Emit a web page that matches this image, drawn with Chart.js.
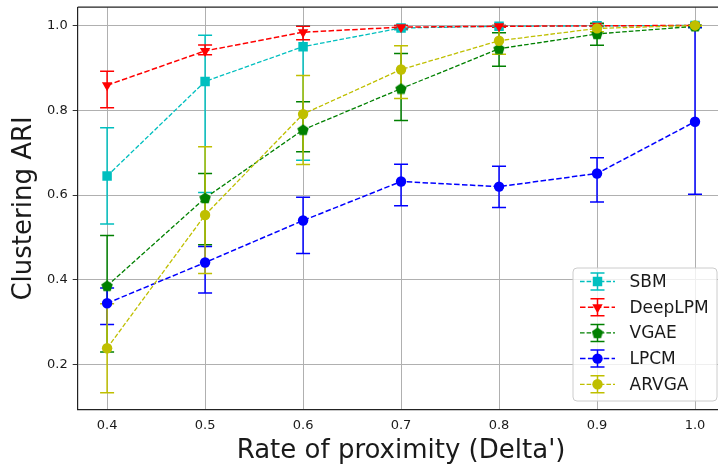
<!DOCTYPE html>
<html>
<head>
  <title>Clustering ARI vs rate of proximity</title>
  <script src="https://cdn.jsdelivr.net/npm/chart.js"></script>
  <style>
    body { margin: 0; background: #fff; overflow: hidden; }
    .wrap { width: 718px; height: 470px; overflow: hidden; }
    canvas { display: block; }
  </style>
</head>
<body>
  <div class="wrap"><canvas id="ari" width="732" height="470"></canvas></div>
  <script>
    // x values and tick labels
    const deltas = [0.4, 0.5, 0.6, 0.7, 0.8, 0.9, 1.0];
    const xTicks = [0.4, 0.5, 0.6, 0.7, 0.8, 0.9, 1.0];
    const yTicks = [0.2, 0.4, 0.6, 0.8, 1.0];

    // mean ARI and error bar ends
    const sbmMean = [0.645, 0.868, 0.950, 0.994, 0.998, 0.999, 1.000];
    const sbmLow  = [0.532, 0.606, 0.682, 0.990, 0.996, 0.997, 0.995];
    const sbmHigh = [0.759, 0.977, 0.999, 1.000, 1.000, 1.000, 1.000];

    const deepMean = [0.859, 0.940, 0.984, 0.996, 0.998, 0.999, 1.000];
    const deepLow  = [0.806, 0.931, 0.966, 0.992, 0.996, 0.998, 0.999];
    const deepHigh = [0.892, 0.954, 0.998, 1.000, 1.000, 1.000, 1.000];

    const vgaeMean = [0.386, 0.593, 0.754, 0.851, 0.945, 0.980, 0.998];
    const vgaeLow  = [0.230, 0.483, 0.702, 0.776, 0.904, 0.953, 0.995];
    const vgaeHigh = [0.505, 0.651, 0.820, 0.934, 0.983, 1.005, 1.000];

    const lpcmMean = [0.345, 0.441, 0.540, 0.632, 0.620, 0.651, 0.773];
    const lpcmLow  = [0.295, 0.369, 0.462, 0.575, 0.571, 0.584, 0.602];
    const lpcmHigh = [0.381, 0.479, 0.595, 0.673, 0.668, 0.688, 0.995];

    const arvgaMean = [0.239, 0.553, 0.791, 0.896, 0.964, 0.993, 1.000];
    const arvgaLow  = [0.134, 0.415, 0.672, 0.828, 0.932, 0.985, 0.998];
    const arvgaHigh = [0.344, 0.714, 0.882, 0.952, 0.998, 1.000, 1.000];

    // pentagon marker for VGAE
    const pentagon = document.createElement('canvas');
    pentagon.width = 12; pentagon.height = 12;
    (() => {
      const c = pentagon.getContext('2d');
      c.fillStyle = '#008000';
      c.beginPath();
      for (let k = 0; k < 5; k++) {
        const a = -Math.PI / 2 + k * 2 * Math.PI / 5;
        c.lineTo(6 + 6 * Math.cos(a), 6.4 + 6 * Math.sin(a));
      }
      c.closePath();
      c.fill();
    })();

    const series = [
      { label: 'SBM', color: '#00bfbf', mean: sbmMean, low: sbmLow, high: sbmHigh, style: 'rect', radius: 6.7, rot: 0, width: 1.3, dash: [4.6, 2] },
      { label: 'DeepLPM', color: '#ff0000', mean: deepMean, low: deepLow, high: deepHigh, style: 'triangle', radius: 6, rot: 180, width: 1.5, dash: [5.5, 2.4] },
      { label: 'VGAE', color: '#008000', mean: vgaeMean, low: vgaeLow, high: vgaeHigh, style: pentagon, radius: 6, rot: 0, width: 1.3, dash: [4.6, 2] },
      { label: 'LPCM', color: '#0000ff', mean: lpcmMean, low: lpcmLow, high: lpcmHigh, style: 'circle', radius: 5.2, rot: 0, width: 1.5, dash: [5.5, 2.4] },
      { label: 'ARVGA', color: '#bfbf00', mean: arvgaMean, low: arvgaLow, high: arvgaHigh, style: 'circle', radius: 5.2, rot: 0, width: 1.3, dash: [4.6, 2] }
    ];

    function drawMarker(ctx, s, x, y) {
      ctx.save();
      ctx.fillStyle = s.color;
      ctx.setLineDash([]);
      if (s.style instanceof HTMLCanvasElement) {
        ctx.drawImage(s.style, x - s.style.width / 2, y - s.style.height / 2);
      } else if (s.style === 'rect') {
        const h = s.radius * Math.SQRT1_2;
        ctx.fillRect(x - h, y - h, 2 * h, 2 * h);
      } else if (s.style === 'triangle') {
        ctx.beginPath();
        for (let k = 0; k < 3; k++) {
          const a = Math.PI / 2 + k * 2 * Math.PI / 3;
          ctx.lineTo(x + s.radius * Math.cos(a), y + s.radius * Math.sin(a));
        }
        ctx.closePath();
        ctx.fill();
      } else {
        ctx.beginPath();
        ctx.arc(x, y, s.radius, 0, 2 * Math.PI);
        ctx.fill();
      }
      ctx.restore();
    }

    const errorBars = {
      id: 'errorBars',
      beforeDatasetsDraw(chart) {
        const { ctx, chartArea: a, scales: { x, y } } = chart;
        ctx.save();
        ctx.beginPath();
        ctx.rect(a.left, a.top - 2, a.right - a.left, a.bottom - a.top + 2);
        ctx.clip();
        ctx.setLineDash([]);
        ctx.lineWidth = 1.5;
        series.forEach(s => {
          ctx.strokeStyle = s.color;
          deltas.forEach((d, i) => {
            const px = x.getPixelForValue(d);
            const lo = y.getPixelForValue(s.low[i]);
            const hi = y.getPixelForValue(s.high[i]);
            ctx.beginPath();
            ctx.moveTo(px, lo); ctx.lineTo(px, hi);
            ctx.moveTo(px - 7, lo); ctx.lineTo(px + 7, lo);
            ctx.moveTo(px - 7, hi); ctx.lineTo(px + 7, hi);
            ctx.stroke();
          });
        });
        ctx.restore();
      }
    };

    const frameAndLegend = {
      id: 'frameAndLegend',
      afterDraw(chart) {
        const { ctx, chartArea: a } = chart;
        ctx.save();
        // top spine (left/bottom come from the axes, right one is off the page)
        ctx.strokeStyle = '#222';
        ctx.lineWidth = 1.2;
        ctx.beginPath();
        ctx.moveTo(a.left, a.top); ctx.lineTo(a.right, a.top);
        ctx.stroke();

        // legend box
        const bx = 573, by = 268, bw = 144, bh = 133, r = 4;
        ctx.fillStyle = 'rgba(255,255,255,0.8)';
        ctx.strokeStyle = '#cccccc';
        ctx.lineWidth = 1;
        ctx.beginPath();
        ctx.moveTo(bx + r, by);
        ctx.arcTo(bx + bw, by, bx + bw, by + bh, r);
        ctx.arcTo(bx + bw, by + bh, bx, by + bh, r);
        ctx.arcTo(bx, by + bh, bx, by, r);
        ctx.arcTo(bx, by, bx + bw, by, r);
        ctx.closePath();
        ctx.fill();
        ctx.stroke();

        ctx.font = '17px "DejaVu Sans"';
        ctx.textBaseline = 'middle';
        ctx.textAlign = 'left';
        series.forEach((s, i) => {
          const ry = 281.5 + i * 25.7, mx = 597.5;
          ctx.strokeStyle = s.color;
          ctx.lineWidth = s.width;
          ctx.setLineDash(s.dash);
          ctx.beginPath();
          ctx.moveTo(580, ry); ctx.lineTo(615, ry);
          ctx.stroke();
          ctx.setLineDash([]);
          ctx.lineWidth = 1.5;
          ctx.beginPath();
          ctx.moveTo(mx, ry - 8.5); ctx.lineTo(mx, ry + 8.5);
          ctx.moveTo(mx - 7, ry - 8.5); ctx.lineTo(mx + 7, ry - 8.5);
          ctx.moveTo(mx - 7, ry + 8.5); ctx.lineTo(mx + 7, ry + 8.5);
          ctx.stroke();
          drawMarker(ctx, s, mx, ry);
          ctx.fillStyle = '#1a1a1a';
          ctx.fillText(s.label, 629.5, ry + 1);
        });
        ctx.restore();
      }
    };

    Chart.defaults.font.family = '"DejaVu Sans", sans-serif';
    Chart.defaults.color = '#1a1a1a';

    new Chart(document.getElementById('ari').getContext('2d'), {
      type: 'line',
      data: {
        datasets: series.map((s, i) => ({
          label: s.label,
          data: deltas.map((d, k) => ({ x: d, y: s.mean[k] })),
          borderColor: s.color,
          backgroundColor: s.color,
          borderWidth: s.width,
          borderDash: s.dash,
          pointStyle: s.style,
          pointRadius: s.radius,
          pointRotation: s.rot,
          pointBorderWidth: 0,
          pointBackgroundColor: s.color,
          fill: false,
          tension: 0,
          order: series.length - i
        }))
      },
      options: {
        responsive: false,
        animation: false,
        layout: { autoPadding: false, padding: { top: 7.2, right: 7.6, left: 0, bottom: 0 } },
        plugins: { legend: { display: false }, tooltip: { enabled: false } },
        scales: {
          x: {
            type: 'linear',
            min: 0.37,
            max: 1.03,
            afterBuildTicks: sc => { sc.ticks = xTicks.map(v => ({ value: v })); },
            afterFit: sc => { sc.height = 60.3; sc.paddingLeft = 0; sc.paddingRight = 0; },
            grid: { color: '#b0b0b0', lineWidth: 1, drawTicks: false },
            border: { color: '#222', width: 1.2 },
            ticks: { font: { size: 13 }, padding: 8, maxRotation: 0, callback: v => v.toFixed(1) },
            title: { display: true, text: "Rate of proximity (Delta')", font: { size: 26 }, padding: { top: 0, bottom: 3.5 } }
          },
          y: {
            min: 0.094,
            max: 1.043,
            afterBuildTicks: sc => { sc.ticks = yTicks.map(v => ({ value: v })); },
            afterFit: sc => { sc.width = 77.7; sc.paddingTop = 0; sc.paddingBottom = 0; },
            grid: { color: '#b0b0b0', lineWidth: 1, drawTicks: true, tickLength: 5, tickColor: '#333' },
            border: { color: '#222', width: 1.2 },
            ticks: { font: { size: 13 }, padding: 5, callback: v => v.toFixed(1) },
            title: { display: true, text: 'Clustering ARI', font: { size: 26 }, padding: { top: 8.5, bottom: 0 } }
          }
        }
      },
      plugins: [errorBars, frameAndLegend]
    });
  </script>
</body>
</html>
